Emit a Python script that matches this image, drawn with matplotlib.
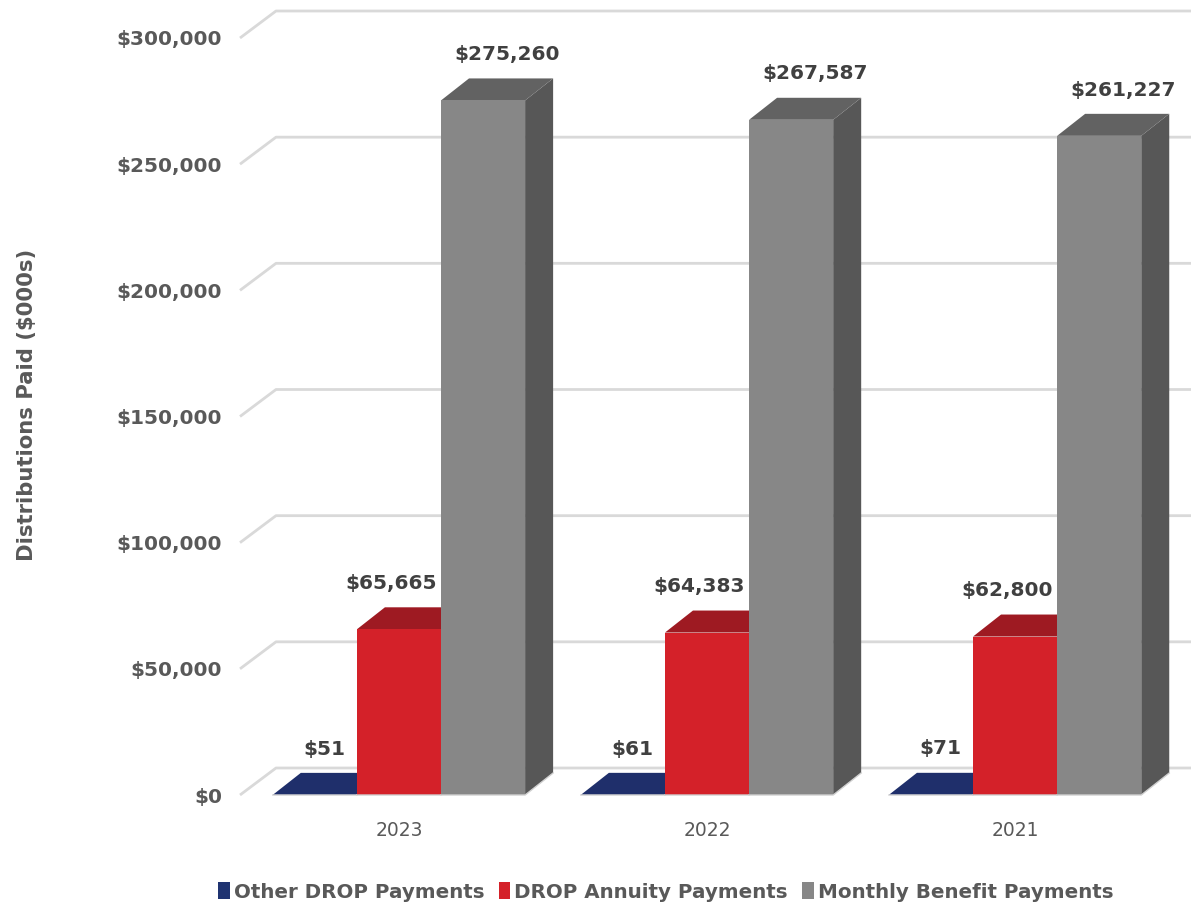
import matplotlib.pyplot as plt
from matplotlib.patches import Polygon, Patch
import numpy as np

years = ["2023", "2022", "2021"]
other_drop = [51, 61, 71]
drop_annuity = [65665, 64383, 62800]
monthly_benefit = [275260, 267587, 261227]

series_names = ["Other DROP Payments", "DROP Annuity Payments", "Monthly Benefit Payments"]
# front, top, side colours for each series
face_colors = [("#1f3371", "#1f2f6b", "#16244f"),
               ("#d42129", "#9e1a22", "#8a161d"),
               ("#878787", "#626262", "#575757")]
label_shift_pt = [-3, -16, 7]

y_ticks = [0, 50000, 100000, 150000, 200000, 250000, 300000]

BAR_W = 0.273
YMAX = 300000

fig = plt.figure(figsize=(11.91, 9.07), dpi=100)
ax = fig.add_axes([240 / 1191, 112 / 907, 951 / 1191, 757 / 907])
x0, x1 = -0.516, 2.571
ax.set_xlim(x0, x1)
ax.set_ylim(0, YMAX)

# depth of the bars and of the back wall, in data units
px_x = (x1 - x0) / 951
px_y = YMAX / 757
bar_dx, bar_dy = 28 * px_x, 22 * px_y
wall_dx, wall_dy = 36 * px_x, 27 * px_y

# gridlines on the back wall plus the diagonal on the side wall
for t in y_ticks:
    ax.plot([x0, x0 + wall_dx, x1], [t, t + wall_dy, t + wall_dy],
            color="#d9d9d9", lw=2, clip_on=False, zorder=1,
            solid_capstyle="butt")

x = np.arange(len(years))
all_values = [other_drop, drop_annuity, monthly_benefit]

for i, (vals, cols) in enumerate(zip(all_values, face_colors)):
    centers = x + (i - 1) * BAR_W
    front, top, side = cols
    for c, v in zip(centers, vals):
        left, right = c - BAR_W / 2, c + BAR_W / 2
        z = 3 + i + 0.01 * c
        ax.add_patch(Polygon([(right, 0), (right + bar_dx, bar_dy),
                              (right + bar_dx, v + bar_dy), (right, v)],
                             closed=True, facecolor=side, edgecolor="none",
                             zorder=z, clip_on=False))
        ax.add_patch(Polygon([(left, v), (right, v), (right + bar_dx, v + bar_dy),
                              (left + bar_dx, v + bar_dy)],
                             closed=True, facecolor=top, edgecolor="none",
                             zorder=z, clip_on=False))
        ax.bar(c, v, width=BAR_W, color=front, edgecolor="none", zorder=z + 0.005)
        ax.plot([left, right, right + bar_dx], [0, 0, bar_dy], color="#d0d0d0",
                lw=1, zorder=z + 0.006, clip_on=False)
        ax.annotate(f"${v:,}", xy=(c + bar_dx / 2, v), xytext=(label_shift_pt[i], 33),
                    textcoords="offset points", ha="center", va="center",
                    fontsize=14.5, fontweight="bold", color="#404040", zorder=10)

ax.set_yticks(y_ticks)
ax.set_yticklabels([f"${t:,}" for t in y_ticks], fontsize=14.5,
                   fontweight="bold", color="#595959")
ax.set_xticks(x)
ax.set_xticklabels(years, fontsize=13.5, color="#595959")
ax.tick_params(axis="y", length=0, pad=13)
ax.tick_params(axis="x", length=0, pad=19)
for s in ax.spines.values():
    s.set_visible(False)

fig.text(27 / 1191, 1 - 405 / 907, "Distributions Paid ($000s)", rotation=90,
         ha="center", va="center", fontsize=15.2, fontweight="bold", color="#595959")

handles = [Patch(facecolor=c[0], edgecolor="none") for c in face_colors]
leg = fig.legend(handles, series_names, loc="center", bbox_to_anchor=(0.559, 15 / 907),
                 ncol=3, frameon=False, handlelength=0.6, handleheight=0.9,
                 handletextpad=0.2, columnspacing=0.7,
                 prop={"size": 14.3, "weight": "bold"})
for t in leg.get_texts():
    t.set_color("#595959")

fig.savefig("out.png", dpi=100)
